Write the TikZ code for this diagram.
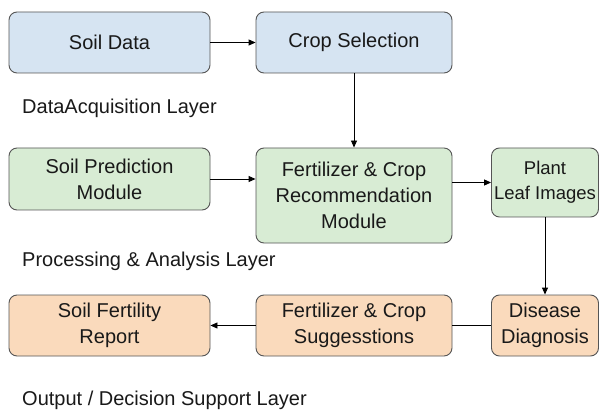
\documentclass[tikz,border=0pt]{standalone}
\usepackage{fontspec}
\setmainfont{Liberation Sans}
\usetikzlibrary{arrows.meta}
\definecolor{bluefill}{RGB}{214,228,242}
\definecolor{greenfill}{RGB}{216,236,212}
\definecolor{orangefill}{RGB}{250,218,188}
\definecolor{edgegray}{RGB}{85,85,85}
\definecolor{txt}{RGB}{25,25,25}
\begin{document}
\begin{tikzpicture}[x=1pt,y=1pt,
  box/.style={draw=edgegray, line width=0.9pt, rounded corners=8pt, align=center,
    inner sep=0pt, text=txt, font=\fontsize{20}{26}\selectfont},
  wide/.style={box, minimum width=200pt, minimum height=61pt},
  narrow/.style={box, minimum width=107pt, minimum height=61pt},
  layer/.style={anchor=west, text=txt, inner sep=0pt, font=\fontsize{20}{24}\selectfont},
  conn/.style={draw=black, line width=0.9pt},
  arr/.style={conn, -{Triangle[length=7pt,width=6pt]}}]
\useasboundingbox (0,0) rectangle (600,413);
\fill[white] (0,0) rectangle (600,413);
% row 1
\node[wide, fill=bluefill, minimum width=201pt] (sd) at (109.5,370.5) {Soil Data};
\node[wide, fill=bluefill, minimum width=196pt] (cs) at (354,370.5) {Crop Selection};
\node[layer] (l1) at (22,305) {DataAcquisition Layer};
% row 2
\node[wide, fill=greenfill, minimum width=201pt, minimum height=62pt] (sp) at (109.5,234) {Soil Prediction\\Module};
\node[wide, fill=greenfill, minimum width=196pt, minimum height=95pt] (fr) at (354,217.5) {Fertilizer \& Crop\\Recommendation\\Module};
\node[narrow, fill=greenfill, minimum height=69pt, font=\fontsize{18.5}{25}\selectfont] (pl) at (545,230.5) {Plant\\Leaf Images};
\node[layer] (l2) at (22,152) {Processing \& Analysis Layer};
% row 3
\node[wide, fill=orangefill, minimum width=201pt] (sf) at (109.5,87.5) {Soil Fertility\\Report};
\node[wide, fill=orangefill, minimum width=196pt] (fs) at (354,87.5) {Fertilizer \& Crop\\Suggesstions};
\node[narrow, fill=orangefill] (dd) at (545,87.5) {Disease\\Diagnosis};
\node[layer] (l3) at (22,13) {Output / Decision Support Layer};
% connectors
\draw[arr] (sd) -- (cs);
\draw[arr] (cs) -- (fr);
\draw[arr] (sp.east) -- (fr.west |- sp.east);
\draw[arr] (fr.east |- pl.west) -- (pl.west);
\draw[arr] (pl) -- (dd);
\draw[conn] (dd) -- (fs);
\draw[arr] (fs) -- (sf);
\end{tikzpicture}
\end{document}
